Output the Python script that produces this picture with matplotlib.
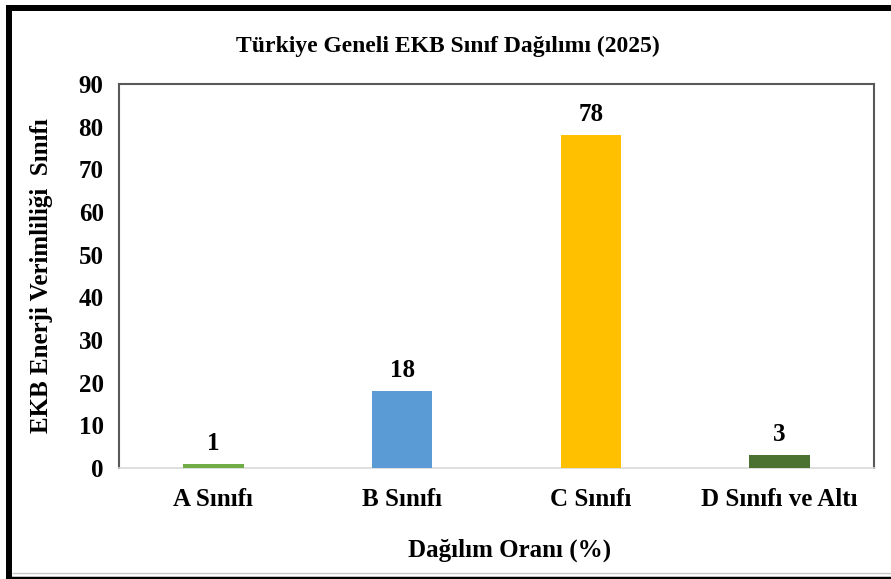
import matplotlib
matplotlib.use("Agg")
import matplotlib.pyplot as plt
from matplotlib.lines import Line2D

categories = ["A Sınıfı", "B Sınıfı", "C Sınıfı", "D Sınıfı ve Altı"]
values = [1, 18, 78, 3]
colors = ["#70AD47", "#5B9BD5", "#FFC000", "#4B7230"]
yticks = [0, 10, 20, 30, 40, 50, 60, 70, 80, 90]

plt.rcParams['font.family'] = ['Liberation Serif', 'DejaVu Serif']
plt.rcParams['font.weight'] = 'bold'

W, H = 891, 579
fig = plt.figure(figsize=(W / 100, H / 100), dpi=100)
ax = fig.add_axes([119 / W, 1 - 468 / H, (874 - 119) / W, (468 - 84) / H])

x = list(range(len(categories)))
bars = ax.bar(x, values, width=0.32, color=colors, zorder=3)
ax.set_xlim(-0.5, len(categories) - 0.5)
ax.set_ylim(0, 90)
ax.set_yticks(yticks)
ax.set_yticklabels([str(t) for t in yticks], fontsize=18, fontweight='bold')
ax.set_xticks(x)
ax.set_xticklabels(categories, fontsize=18, fontweight='bold')
ax.tick_params(axis='both', length=0)
ax.tick_params(axis='y', pad=11)
ax.tick_params(axis='x', pad=14.5)

for b, v in zip(bars, values):
    ax.annotate(str(v), (b.get_x() + b.get_width() / 2, v), xytext=(0, 6.5),
                textcoords='offset points', ha='center', va='bottom',
                fontsize=18, fontweight='bold')

for s in ['left', 'top', 'right']:
    ax.spines[s].set_color('#595959')
    ax.spines[s].set_linewidth(1.5)
ax.spines['bottom'].set_color('#D9D9D9')
ax.spines['bottom'].set_linewidth(1.2)

fig.text(448 / W, 1 - 46 / H, "Türkiye Geneli EKB Sınıf Dağılımı (2025)",
         ha='center', va='center', fontsize=17, fontweight='bold')
fig.text(42 / W, 1 - 276 / H, "EKB Enerji Verimliliği  Sınıfı", rotation=90,
         ha='center', va='center', fontsize=18, fontweight='bold')
fig.text(510 / W, 1 - 550 / H, "Dağılım Oranı (%)",
         ha='center', va='center', fontsize=18, fontweight='bold')

# outer frame
def hline(y, x0, x1, lw, color):
    fig.add_artist(Line2D([x0 / W, x1 / W], [1 - y / H, 1 - y / H], lw=lw, color=color,
                          transform=fig.transFigure, solid_capstyle='butt'))

def vline(xp, y0, y1, lw, color):
    fig.add_artist(Line2D([xp / W, xp / W], [1 - y0 / H, 1 - y1 / H], lw=lw, color=color,
                          transform=fig.transFigure, solid_capstyle='butt'))

hline(8, 6, W, 4.3, 'black')
hline(577.5, 6, W, 2.5, 'black')
hline(572.5, 12, W, 1.0, '#C8C8C8')
vline(9, 5, 579, 4.3, 'black')

fig.savefig("out.png", dpi=100)
